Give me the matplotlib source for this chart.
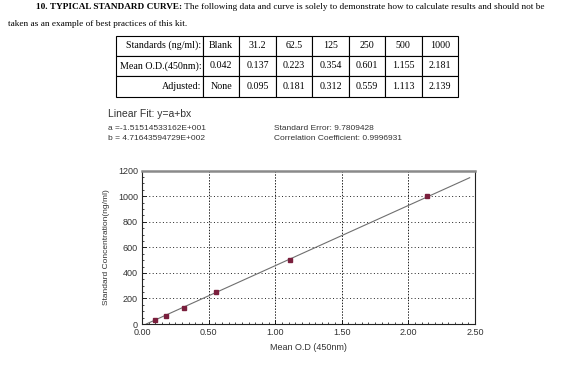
import matplotlib.pyplot as plt
import numpy as np
from matplotlib.ticker import MultipleLocator, FormatStrFormatter

# table data
row_labels = ["Standards (ng/ml):", "Mean O.D.(450nm):", "Adjusted:"]
standards = ["Blank", "31.2", "62.5", "125", "250", "500", "1000"]
mean_od = ["0.042", "0.137", "0.223", "0.354", "0.601", "1.155", "2.181"]
adjusted = ["None", "0.095", "0.181", "0.312", "0.559", "1.113", "2.139"]

# curve data (adjusted OD vs concentration)
od_points = [0.095, 0.181, 0.312, 0.559, 1.113, 2.139]
conc_points = [31.2, 62.5, 125, 250, 500, 1000]
fit_a = -1.51514533162E+001
fit_b = 4.71643594729E+002
fit_x = [0.032, 2.46]

serif = "Liberation Serif"
sans = "Liberation Sans"
txt_col = "#333333"

fig = plt.figure(figsize=(5.79, 3.72), dpi=100)

# table
tax = fig.add_axes([116 / 579, 1 - 96.5 / 372, (458 - 116) / 579, 61 / 372])
tax.axis("off")
cells = [[row_labels[0]] + standards, [row_labels[1]] + mean_od, [row_labels[2]] + adjusted]
widths = [87] + [36.4] * 7
widths = [w / sum(widths) for w in widths]
tbl = tax.table(cellText=cells, colWidths=widths, bbox=[0, 0, 1, 1], cellLoc="center")
tbl.auto_set_font_size(False)
for (r, c), cell in tbl.get_celld().items():
    cell.set_linewidth(0.8)
    cell.get_text().set_fontfamily(serif)
    cell.get_text().set_fontsize(7.2)
    if c == 0:
        cell.get_text().set_ha("right")
        cell.PAD = 0.02

# heading
t1 = fig.text(36 / 579, 1 - 7 / 372, "10. TYPICAL STANDARD CURVE:", family=serif,
              fontsize=6.7, fontweight="bold", va="center", ha="left")
tax.annotate(" The following data and curve is solely to demonstrate how to calculate results and should not be",
             xy=(1, 0), xycoords=t1, va="bottom", ha="left", family=serif,
             fontsize=6.7, annotation_clip=False)
fig.text(8 / 579, 1 - 24 / 372, "taken as an example of best practices of this kit.", family=serif,
         fontsize=6.7, va="center", ha="left")

# fit info texts
fig.text(108 / 579, 1 - 114 / 372, "Linear Fit: y=a+bx", family=sans, fontsize=7.5,
         color=txt_col, va="center")
fig.text(108 / 579, 1 - 129 / 372, "a =%.11fE+001" % (fit_a / 10), family=sans, fontsize=6,
         color=txt_col, va="center")
fig.text(108 / 579, 1 - 139 / 372, "b = %.11fE+002" % (fit_b / 100), family=sans, fontsize=6,
         color=txt_col, va="center")
fig.text(274 / 579, 1 - 129 / 372, "Standard Error: 9.7809428", family=sans, fontsize=6,
         color=txt_col, va="center")
fig.text(274 / 579, 1 - 139 / 372, "Correlation Coefficient: 0.9996931", family=sans, fontsize=6,
         color=txt_col, va="center")

# chart
ax = fig.add_axes([142 / 579, 1 - 324 / 372, (475 - 142) / 579, (324 - 170.7) / 372])
xs = np.array(fit_x)
ax.plot(xs, fit_a + fit_b * xs, color="#6f6f6f", lw=0.8, zorder=2)
ax.plot(od_points, conc_points, ls="none", marker="s", ms=2.2, color="#7a1f3d", zorder=3)

ax.set_xlim(0, 2.5)
ax.set_ylim(0, 1200)
ax.xaxis.set_major_locator(MultipleLocator(0.5))
ax.xaxis.set_minor_locator(MultipleLocator(0.05))
ax.yaxis.set_major_locator(MultipleLocator(200))
ax.yaxis.set_minor_locator(MultipleLocator(50))
ax.xaxis.set_major_formatter(FormatStrFormatter("%.2f"))

for v in [200, 400, 600, 800, 1000]:
    ax.axhline(v, color="#222222", lw=0.7, ls=(0, (1, 2.5)), zorder=1)
for v in [0.5, 1.0, 1.5, 2.0]:
    ax.axvline(v, color="#222222", lw=0.7, ls=(0, (1.5, 1.5)), zorder=1)

ax.tick_params(which="major", direction="in", length=3, width=0.6, labelsize=6.5,
               labelcolor=txt_col, pad=3)
ax.tick_params(which="minor", direction="in", length=1.5, width=0.5)
for lab in ax.get_xticklabels() + ax.get_yticklabels():
    lab.set_fontfamily(sans)

for s in ["left", "bottom", "right"]:
    ax.spines[s].set_linewidth(0.8)
    ax.spines[s].set_color("#222222")
ax.spines["top"].set_linewidth(1.8)
ax.spines["top"].set_color("#8a8a8a")

ax.set_xlabel("Mean O.D (450nm)", family=sans, fontsize=6.5, color=txt_col, labelpad=4)
ax.set_ylabel("Standard Concentration(ng/ml)", family=sans, fontsize=6, color=txt_col, labelpad=6)

fig.savefig("out.png", dpi=100)
